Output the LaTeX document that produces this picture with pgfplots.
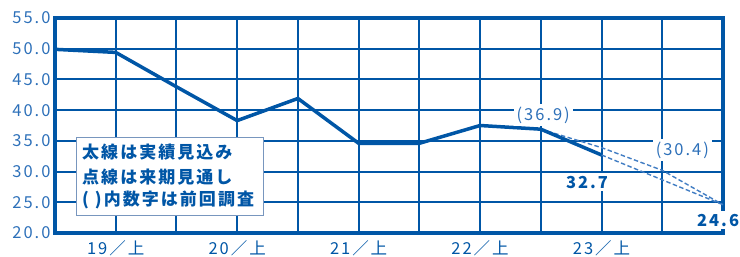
\documentclass[border=0pt]{standalone}
\usepackage{fontspec}
\setmainfont{Noto Sans CJK JP}
\newfontfamily\numfont{Noto Sans CJK JP}[LetterSpace=12]
\usepackage{pgfplots}
\pgfplotsset{compat=1.18}
\definecolor{mainblue}{RGB}{0,86,166}
\definecolor{tickblue}{RGB}{45,112,185}
\definecolor{dashblue}{RGB}{65,125,195}
\definecolor{boxgray}{RGB}{120,150,190}
\begin{document}
\begin{tikzpicture}
\path[use as bounding box] (-55pt,-24pt) rectangle (685pt,233pt);
\begin{axis}[
  at={(0,0)}, anchor=south west,
  scale only axis, width=668pt, height=215pt,
  xmin=0, xmax=11, ymin=20, ymax=55,
  xtick={0,1,2,3,4,5,6,7,8,9,10,11},
  xticklabels={,19／上,,20／上,,21／上,,22／上,,23／上,,},
  ytick={20,25,30,35,40,45,50,55},
  yticklabels={20.0,25.0,30.0,35.0,40.0,45.0,50.0,55.0},
  major tick length=0pt,
  grid=major,
  major grid style={mainblue, line width=2pt},
  axis line style={mainblue, line width=4pt, line cap=rect},
  yticklabel style={font=\numfont\fontsize{16.5}{18}\selectfont, text=tickblue, xshift=-1pt},
  xticklabel style={font=\numfont\fontsize{16.5}{18}\selectfont, text=mainblue, yshift=-4pt},
  clip=false,
]
\addplot[dashblue, line width=1.4pt, dash pattern=on 4.5pt off 2.5pt] coordinates {
  (8,36.9) (9,33.9) (10,30.2) (11,24.6)
};
\addplot[dashblue, line width=1.4pt, dash pattern=on 4.5pt off 2.5pt] coordinates {
  (9,32.7) (11,24.6)
};
\addplot[mainblue, line width=3.5pt, line join=round] coordinates {
  (0,49.9) (1,49.4) (2,43.8) (3,38.3) (4,41.9) (5,34.6) (6,34.6) (7,37.5) (8,36.9) (9,32.7)
};
\node[fill=white, text=tickblue, inner sep=3pt, font=\numfont\fontsize{16.5}{18}\selectfont] at (axis cs:8.04,39.2) {(36.9)};
\node[fill=white, text=tickblue, inner sep=3pt, font=\numfont\fontsize{16.5}{18}\selectfont] at (axis cs:10.33,33.5) {(30.4)};
\node[fill=white, text=mainblue, inner sep=3pt, font=\numfont\bfseries\fontsize{16.5}{18}\selectfont] at (axis cs:8.76,28.3) {32.7};
\node[fill=white, text=mainblue, inner sep=3pt, font=\numfont\bfseries\fontsize{16.5}{18}\selectfont] at (axis cs:10.92,22.1) {24.6};
\draw[boxgray, line width=1pt, fill=white] (axis cs:0.36,35.5) rectangle (axis cs:3.43,22.9);
\node[anchor=base west, inner sep=0, text=mainblue, font=\numfont\bfseries\fontsize{17}{20}\selectfont] at (axis cs:0.445,32.05) {太線は実績見込み};
\node[anchor=base west, inner sep=0, text=mainblue, font=\numfont\bfseries\fontsize{17}{20}\selectfont] at (axis cs:0.445,28.0) {点線は来期見通し};
\node[anchor=base west, inner sep=0, text=mainblue, font=\numfont\bfseries\fontsize{17}{20}\selectfont] at (axis cs:0.445,24.4) {( )内数字は前回調査};
\end{axis}
\end{tikzpicture}
\end{document}
